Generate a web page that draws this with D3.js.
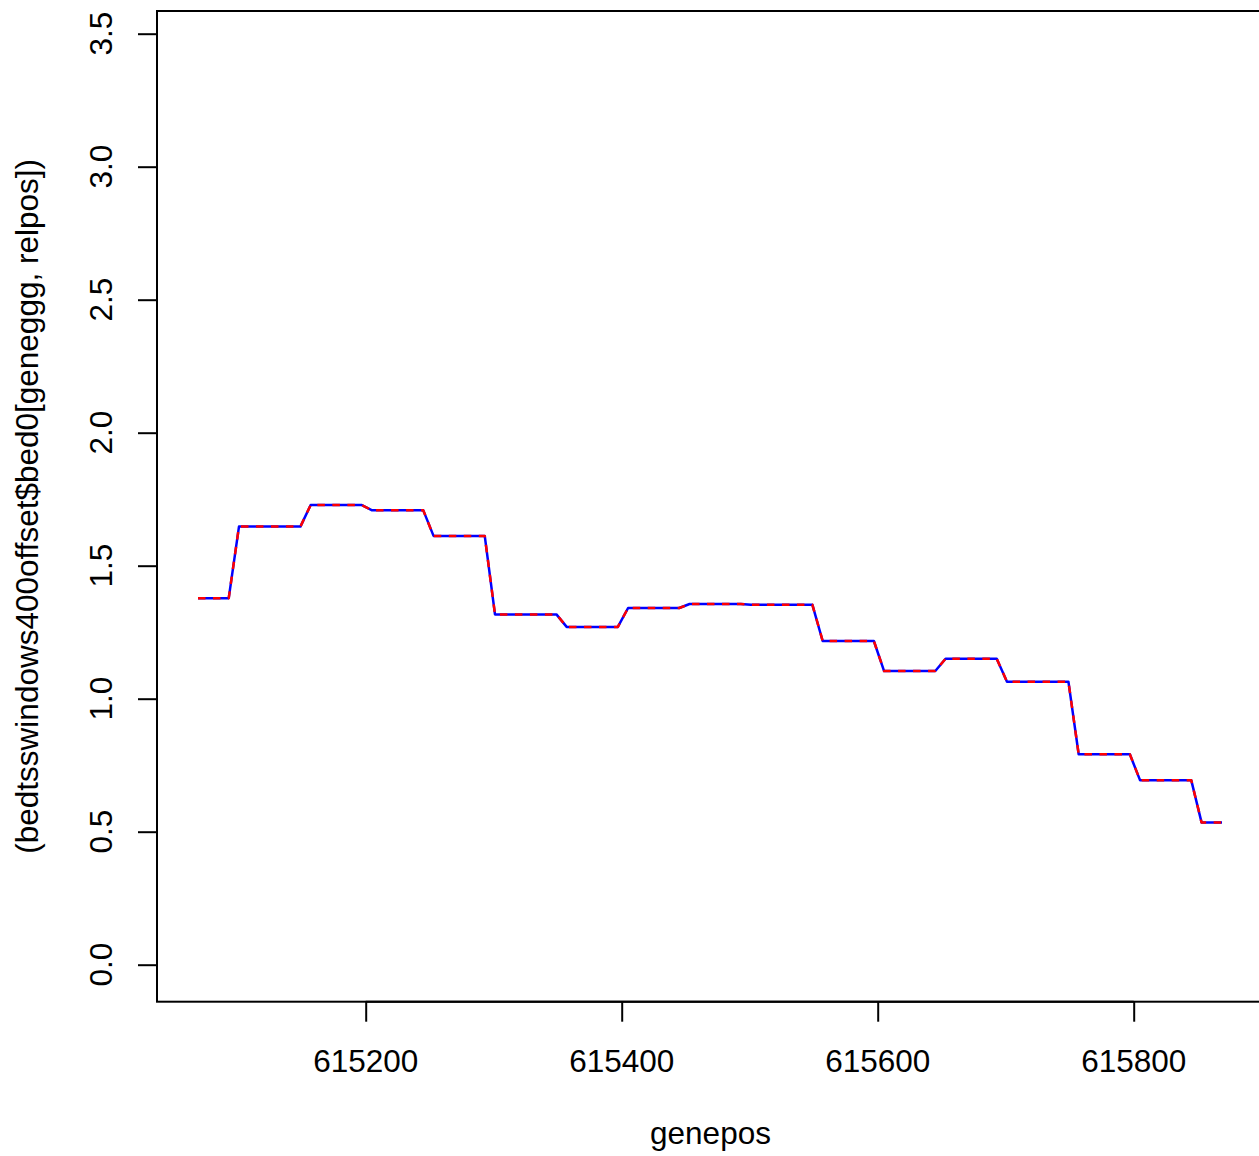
<!DOCTYPE html>
<html>
<head>
<meta charset="utf-8">
<script src="https://cdn.jsdelivr.net/npm/d3@7"></script>
<style>
  html, body { margin: 0; padding: 0; background: #fff; }
  svg { display: block; }
  text { font-family: "Liberation Sans", Arial, Helvetica, sans-serif; fill: #000; }
</style>
</head>
<body>
<svg id="chart" width="1259" height="1156"></svg>
<script>
// ---- data ----
const genepos = [615069, 615093, 615101, 615149, 615157, 615197, 615205, 615245,
                 615253, 615293, 615301, 615349, 615357, 615397, 615405, 615445,
                 615453, 615493, 615501, 615549, 615557, 615597, 615605, 615645,
                 615653, 615693, 615701, 615749, 615757, 615797, 615805, 615845,
                 615853, 615869];
const values  = [1.378, 1.378, 1.647, 1.647, 1.728, 1.728, 1.708, 1.708,
                 1.612, 1.612, 1.317, 1.317, 1.270, 1.270, 1.341, 1.341,
                 1.356, 1.356, 1.353, 1.353, 1.217, 1.217, 1.104, 1.104,
                 1.150, 1.150, 1.064, 1.064, 0.791, 0.791, 0.693, 0.693,
                 0.535, 0.535];
const xTicks = [615200, 615400, 615600, 615800];
const yTicks = [0.0, 0.5, 1.0, 1.5, 2.0, 2.5, 3.0, 3.5];
const xTitle = "genepos";
const yTitle = "(bedtsswindows400offset$bed0[geneggg, relpos])";

// ---- layout ----
const svg = d3.select("#chart");
const plot = { left: 157, top: 11, right: 1264, bottom: 1001.7 };
const fontSize = 31.5;

const x = d3.scaleLinear().domain([615200, 615800]).range([365.7, 1133.7]);
const y = d3.scaleLinear().domain([0, 3.5]).range([964.7, 33.7]);

const pts = genepos.map((g, i) => [g, values[i]]);
const line = d3.line().x(d => x(d[0])).y(d => y(d[1]));

// blue solid line
svg.append("path").datum(pts)
  .attr("d", line).attr("fill", "none")
  .attr("stroke", "#0000ff").attr("stroke-width", 2.5)
  .attr("stroke-linejoin", "round");
// red dashed line on top
svg.append("path").datum(pts)
  .attr("d", line).attr("fill", "none")
  .attr("stroke", "#ff0000").attr("stroke-width", 2.5)
  .attr("stroke-dasharray", "7.5,7.5")
  .attr("stroke-linejoin", "round");

// box
svg.append("rect")
  .attr("x", plot.left).attr("y", plot.top)
  .attr("width", plot.right - plot.left).attr("height", plot.bottom - plot.top)
  .attr("fill", "none").attr("stroke", "#000").attr("stroke-width", 2);

// x axis (R style)
const xAxis = d3.axisBottom(x).tickValues(xTicks).tickSize(20).tickFormat("");
const gx = svg.append("g").attr("transform", `translate(0,${plot.bottom})`).call(xAxis);
gx.select(".domain").attr("d", `M${x(xTicks[0])},0H${x(xTicks[xTicks.length-1])}`)
  .attr("stroke", "#000").attr("stroke-width", 2);
gx.selectAll(".tick line").attr("stroke", "#000").attr("stroke-width", 2);

svg.append("g").selectAll("text").data(xTicks).join("text")
  .attr("x", d => x(d)).attr("y", 1071.7)
  .attr("text-anchor", "middle").attr("font-size", fontSize)
  .text(d => d3.format("d")(d));

// y axis (R style)
const yAxis = d3.axisLeft(y).tickValues(yTicks).tickSize(19).tickFormat("");
const gy = svg.append("g").attr("transform", `translate(${plot.left},0)`).call(yAxis);
gy.select(".domain").attr("d", `M0,${y(yTicks[0])}V${y(yTicks[yTicks.length-1])}`)
  .attr("stroke", "#000").attr("stroke-width", 2);
gy.selectAll(".tick line").attr("stroke", "#000").attr("stroke-width", 2);

svg.append("g").selectAll("text").data(yTicks).join("text")
  .attr("transform", d => `translate(111.7,${y(d)}) rotate(-90)`)
  .attr("text-anchor", "middle").attr("font-size", fontSize)
  .text(d => d3.format(".1f")(d));

// titles
svg.append("text")
  .attr("x", (plot.left + plot.right) / 2).attr("y", 1144.3)
  .attr("text-anchor", "middle").attr("font-size", fontSize)
  .text(xTitle);
svg.append("text")
  .attr("transform", `translate(37.5,${(plot.top + plot.bottom) / 2}) rotate(-90)`)
  .attr("text-anchor", "middle").attr("font-size", fontSize)
  .text(yTitle);
</script>
</body>
</html>
